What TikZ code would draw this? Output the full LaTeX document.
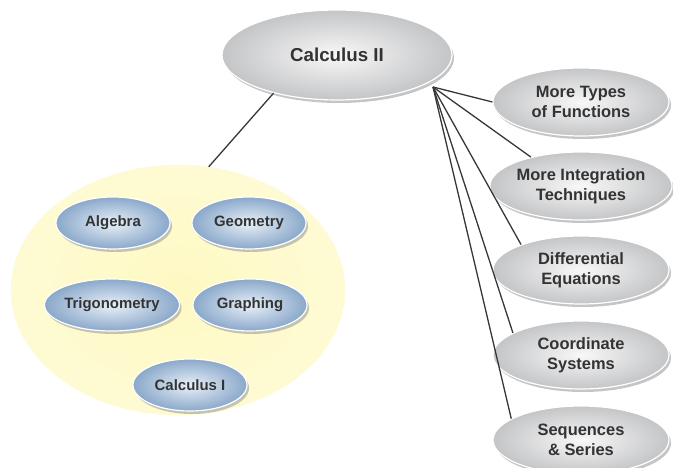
\documentclass[tikz,border=0pt]{standalone}
\usepackage{fontspec}
\setmainfont{Liberation Sans}
\usetikzlibrary{shapes.geometric, shadows}
\definecolor{txtgray}{RGB}{51,51,51}
\definecolor{greylt}{RGB}{248,248,248}
\definecolor{greydk}{RGB}{196,197,199}
\definecolor{bluelt}{RGB}{232,240,248}
\definecolor{bluedk}{RGB}{138,168,202}
\definecolor{yellowlt}{RGB}{254,249,194}
\definecolor{yellowdk}{RGB}{254,251,212}
\definecolor{linkgray}{RGB}{55,55,55}
\tikzset{
    bubble/.style={ellipse, inner sep=0pt, draw=white, line width=1.2bp, text=txtgray,
        align=center, drop shadow={shadow xshift=2bp, shadow yshift=-3bp, fill=black!45, opacity=.5}}, % common look of all ellipses
    main/.style={bubble, minimum width=230bp, minimum height=90bp, inner color=greylt, outer color=greydk,
        font=\fontsize{18.8}{22}\selectfont\bfseries},
    topic/.style={bubble, minimum width=176bp, minimum height=68bp, inner color=greylt, outer color=greydk,
        font=\fontsize{16.5}{20}\selectfont\bfseries},
    basic/.style={bubble, minimum width=114bp, minimum height=52bp, inner color=bluelt, outer color=bluedk,
        font=\fontsize{15}{18}\selectfont\bfseries},
    link/.style={draw=linkgray, line width=1.3bp},
}
\begin{document}
\begin{tikzpicture}[x=1bp, y=-1bp]
\useasboundingbox (0,0) rectangle (673,468);
% prerequisites
\node[ellipse, minimum width=334bp, minimum height=250bp, inner color=yellowlt, outer color=yellowdk,
    draw=yellowlt!60!white, line width=.6bp] (base) at (178,290) {};
\node[basic] (alg) at (113,223) {Algebra};
\node[basic] (geo) at (249,223) {Geometry};
\node[basic] (trig) at (112,305) {Trigonometry};
\node[basic] (graph) at (250,305) {Graphing};
\node[basic] (calc1) at (190,385) {Calculus I};
% main course
\node[main] (calc2) at (337,55) {Calculus II};
% topics
\node[topic] (types) at (581,102) {More Types\\of Functions};
\node[topic] (integ) at (581,186) {More Integration\\Techniques};
\node[topic] (diffeq) at (581,270) {Differential\\Equations};
\node[topic] (coord) at (581,355) {Coordinate\\Systems};
\node[topic] (seq) at (581,440) {Sequences\\\& Series};
\coordinate (hub) at (433,87);
\draw[link] (calc2.211) -- (base.76);
\draw[link] (hub) -- (types.180);
\draw[link] (hub) -- (integ.150);
\draw[link] (hub) -- (diffeq.157);
\draw[link] (hub) -- (coord.162);
\draw[link] (hub) -- (seq.163);
\end{tikzpicture}
\end{document}
